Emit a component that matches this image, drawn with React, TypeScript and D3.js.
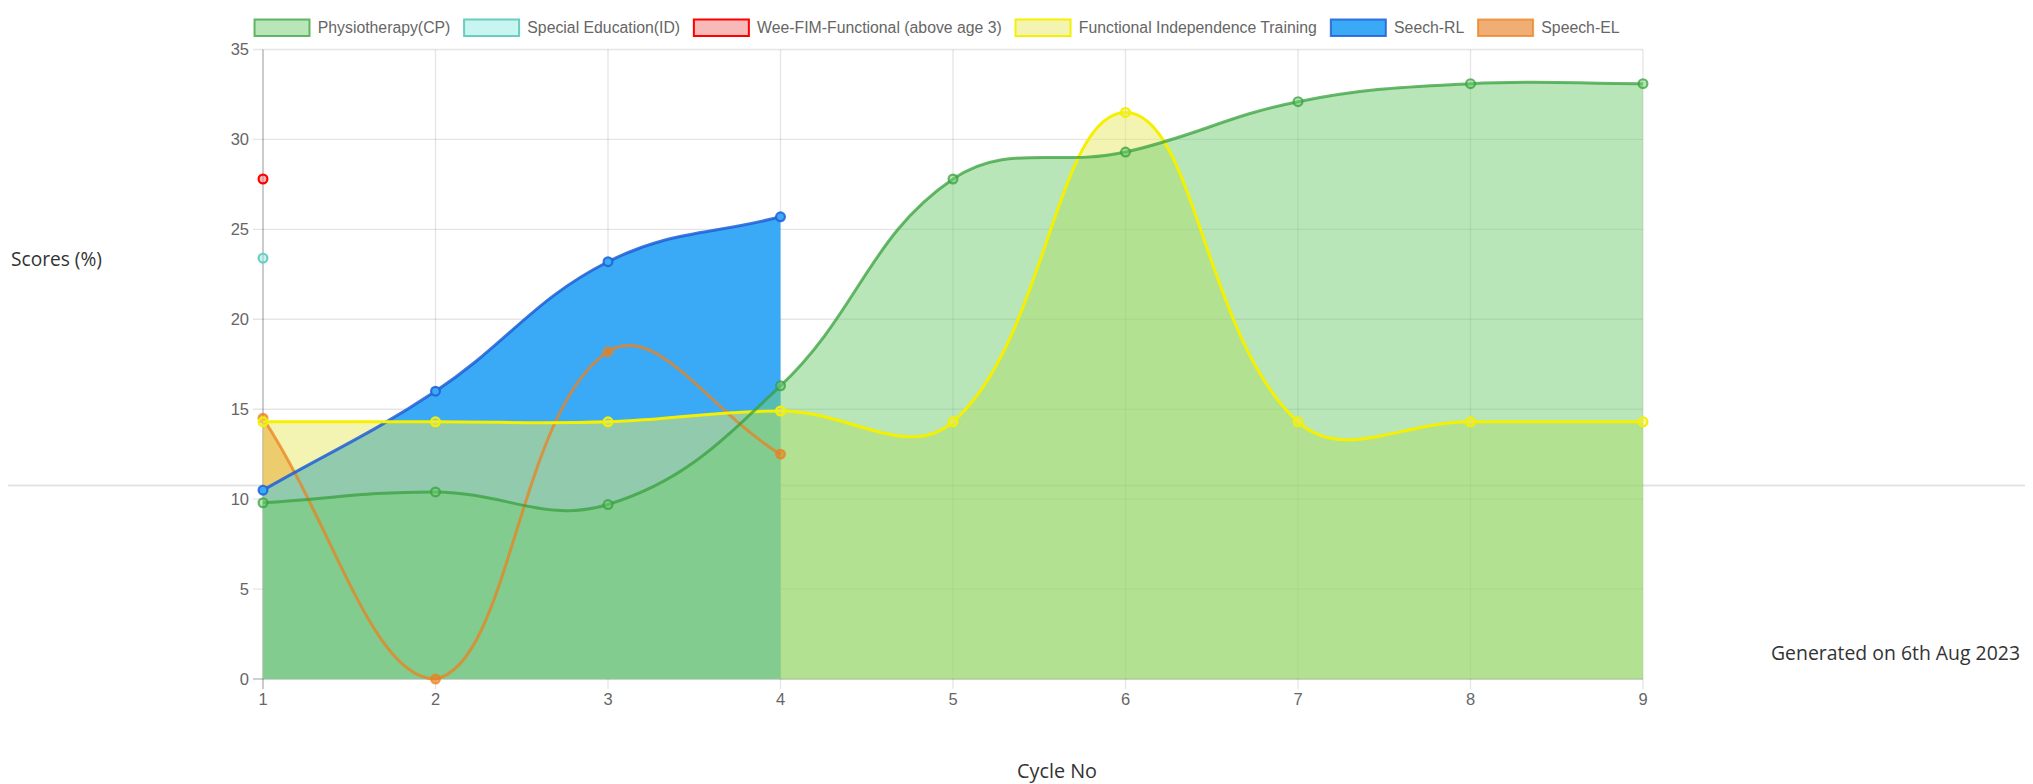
import React, { useEffect, useRef } from 'react';
import * as d3 from 'd3';

// x axis: cycle numbers, y axis: score ticks
const CYCLES = [1, 2, 3, 4, 5, 6, 7, 8, 9];
const Y_TICKS = [0, 5, 10, 15, 20, 25, 30, 35];

// series values (one per cycle, shorter series stop early)
const PHYSIO = [9.8, 10.4, 9.7, 16.3, 27.8, 29.3, 32.1, 33.1, 33.1];
const SPECIAL_ED = [23.4];
const WEE_FIM = [27.8];
const FUNC_IND = [14.3, 14.3, 14.3, 14.9, 14.3, 31.5, 14.3, 14.3, 14.3];
const SEECH_RL = [10.5, 16.0, 23.2, 25.7];
const SPEECH_EL = [14.5, 0, 18.2, 12.5];

const SERIES_NAMES = [
  'Physiotherapy(CP)',
  'Special Education(ID)',
  'Wee-FIM-Functional (above age 3)',
  'Functional Independence Training',
  'Seech-RL',
  'Speech-EL',
];

const FILLS = [
  'rgba(113,205,113,0.5)',
  'rgba(145,235,225,0.5)',
  'rgba(241,115,115,0.5)',
  'rgba(233,233,101,0.5)',
  'rgb(58,170,247)',
  'rgba(232,125,30,0.62)',
];
const STROKES = [
  'rgba(55,160,60,0.75)',
  'rgb(105,205,192)',
  'rgb(255,0,0)',
  'rgb(245,240,0)',
  'rgba(30,95,215,0.85)',
  'rgba(235,130,30,0.75)',
];

const W = 2033;
const H = 784;
const S = 1.375; // chart pixel ratio
const FONT = '"Liberation Sans", Arial, Helvetica, sans-serif';
const PAGE_FONT = '"Open Sans", "Noto Sans", sans-serif';

type Pt = [number, number];

// Chart.js style spline (tension 0.4, control points capped to the chart area)
function splinePath(pts: Pt[], t: number, area: { l: number; r: number; t: number; b: number }) {
  const n = pts.length;
  const cap = (p: Pt): Pt => [
    Math.max(area.l, Math.min(area.r, p[0])),
    Math.max(area.t, Math.min(area.b, p[1])),
  ];
  const ctrl = pts.map((p, i) => {
    const prev = pts[Math.max(0, i - 1)];
    const next = pts[Math.min(n - 1, i + 1)];
    const d01 = Math.hypot(p[0] - prev[0], p[1] - prev[1]);
    const d12 = Math.hypot(next[0] - p[0], next[1] - p[1]);
    let s01 = d01 / (d01 + d12);
    let s12 = d12 / (d01 + d12);
    if (isNaN(s01)) s01 = 0;
    if (isNaN(s12)) s12 = 0;
    const fa = t * s01;
    const fb = t * s12;
    return {
      before: cap([p[0] - fa * (next[0] - prev[0]), p[1] - fa * (next[1] - prev[1])]),
      after: cap([p[0] + fb * (next[0] - prev[0]), p[1] + fb * (next[1] - prev[1])]),
    };
  });
  const path = d3.path();
  path.moveTo(pts[0][0], pts[0][1]);
  for (let i = 1; i < n; i++) {
    const a = ctrl[i - 1].after;
    const b = ctrl[i].before;
    path.bezierCurveTo(a[0], a[1], b[0], b[1], pts[i][0], pts[i][1]);
  }
  return path;
}

const App: React.FC = () => {
  const svgRef = useRef<SVGSVGElement>(null);

  useEffect(() => {
    if (!svgRef.current) return;
    const svg = d3.select(svgRef.current);
    svg.selectAll('*').remove();

    const x = d3.scaleLinear().domain([1, 9]).range([263, 1643]);
    const y = d3.scaleLinear().domain([0, 35]).range([679, 49.5]);
    const area = { l: 263, r: 1643, t: 49.5, b: 679 };
    const tickLen = 10;

    const series = SERIES_NAMES.map((name, i) => ({
      name,
      values: [PHYSIO, SPECIAL_ED, WEE_FIM, FUNC_IND, SEECH_RL, SPEECH_EL][i],
      fill: FILLS[i],
      stroke: STROKES[i],
    }));

    // page horizontal rule (behind the transparent chart)
    svg.append('line')
      .attr('x1', 8).attr('x2', W - 8)
      .attr('y1', 485.5).attr('y2', 485.5)
      .attr('stroke', '#e3e3e3').attr('stroke-width', 2);

    // page texts
    svg.append('text')
      .attr('x', 11).attr('y', 266)
      .attr('textLength', 91).attr('lengthAdjust', 'spacingAndGlyphs')
      .style('font-family', PAGE_FONT).style('font-size', '19.5px').style('fill', '#333')
      .text('Scores (%)');
    svg.append('text')
      .attr('x', 1017).attr('y', 778)
      .attr('textLength', 80).attr('lengthAdjust', 'spacingAndGlyphs')
      .style('font-family', PAGE_FONT).style('font-size', '19.5px').style('fill', '#333')
      .text('Cycle No');
    svg.append('text')
      .attr('x', 1771).attr('y', 660)
      .attr('textLength', 249).attr('lengthAdjust', 'spacingAndGlyphs')
      .style('font-family', PAGE_FONT).style('font-size', '20.5px').style('fill', '#333')
      .text('Generated on 6th Aug 2023');

    // grid
    const grid = svg.append('g');
    Y_TICKS.forEach(v => {
      grid.append('line')
        .attr('x1', area.l - tickLen).attr('x2', area.r)
        .attr('y1', y(v)).attr('y2', y(v))
        .attr('stroke', v === 0 ? 'rgba(0,0,0,0.25)' : 'rgba(0,0,0,0.1)')
        .attr('stroke-width', S);
    });
    CYCLES.forEach((c, i) => {
      grid.append('line')
        .attr('x1', x(c)).attr('x2', x(c))
        .attr('y1', area.t).attr('y2', area.b + tickLen)
        .attr('stroke', i === 0 ? 'rgba(0,0,0,0.3)' : 'rgba(0,0,0,0.1)')
        .attr('stroke-width', S);
    });

    // tick labels
    svg.append('g').selectAll('text').data(Y_TICKS).enter().append('text')
      .attr('x', area.l - tickLen - 4)
      .attr('y', d => y(d))
      .attr('dy', '0.36em')
      .attr('text-anchor', 'end')
      .style('font-family', FONT).style('font-size', '16.5px').style('fill', '#666')
      .text(d => String(d));
    svg.append('g').selectAll('text').data(CYCLES).enter().append('text')
      .attr('x', d => x(d))
      .attr('y', 693)
      .attr('dy', '0.72em')
      .attr('text-anchor', 'middle')
      .style('font-family', FONT).style('font-size', '16.5px').style('fill', '#666')
      .text(d => String(d));

    const pointsOf = (vals: number[]): Pt[] => vals.map((v, i) => [x(CYCLES[i]), y(v)]);

    // fills, last dataset first
    const fills = svg.append('g');
    for (let i = series.length - 1; i >= 0; i--) {
      const s = series[i];
      if (s.values.length < 2) continue;
      const pts = pointsOf(s.values);
      const p = splinePath(pts, 0.4, area);
      p.lineTo(pts[pts.length - 1][0], y(0));
      p.lineTo(pts[0][0], y(0));
      p.closePath();
      fills.append('path').attr('d', p.toString()).attr('fill', s.fill);
    }

    // lines and points, last dataset first
    const lines = svg.append('g');
    for (let i = series.length - 1; i >= 0; i--) {
      const s = series[i];
      const pts = pointsOf(s.values);
      if (pts.length > 1) {
        lines.append('path')
          .attr('d', splinePath(pts, 0.4, area).toString())
          .attr('fill', 'none')
          .attr('stroke', s.stroke)
          .attr('stroke-width', 3)
          .attr('stroke-linejoin', 'round');
      }
      lines.append('g').selectAll('circle').data(pts).enter().append('circle')
        .attr('cx', d => d[0]).attr('cy', d => d[1])
        .attr('r', 4.4)
        .attr('fill', s.fill)
        .attr('stroke', s.stroke)
        .attr('stroke-width', 2.2);
    }

    // legend
    const fontSize = 15.8;
    const ctx = document.createElement('canvas').getContext('2d')!;
    ctx.font = `${fontSize}px "Liberation Sans"`;
    const boxW = 40 * S;
    const boxH = 12 * S;
    const gap = 8.25;
    const pad = 10 * S;
    const widths = series.map(s => boxW + gap + ctx.measureText(s.name).width);
    const total = d3.sum(widths) + pad * (widths.length - 1);
    let lx = 937 - total / 2;
    const legend = svg.append('g');
    series.forEach((s, i) => {
      legend.append('rect')
        .attr('x', lx).attr('y', 19.5)
        .attr('width', boxW).attr('height', boxH)
        .attr('fill', s.fill)
        .attr('stroke', s.stroke)
        .attr('stroke-width', 2);
      legend.append('text')
        .attr('x', lx + boxW + gap).attr('y', 19.5 + boxH / 2)
        .attr('dy', '0.35em')
        .style('font-family', FONT).style('font-size', `${fontSize}px`).style('fill', '#666')
        .text(s.name);
      lx += widths[i] + pad;
    });
  }, []);

  return (
    <div style={{ position: 'absolute', left: 0, top: 0 }}>
      <svg ref={svgRef} width={W} height={H} style={{ display: 'block', background: '#fff' }} />
    </div>
  );
};

export default App;
